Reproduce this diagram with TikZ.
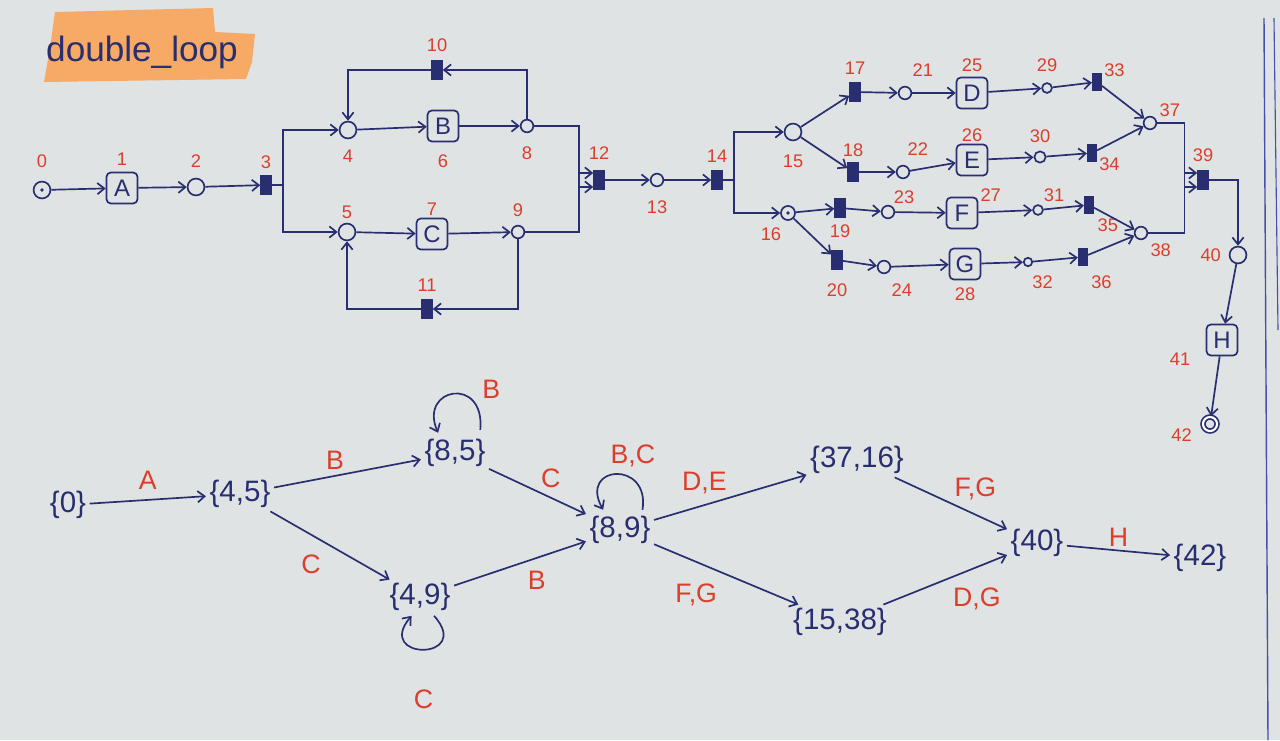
\documentclass[tikz,border=0pt]{standalone}
\usepackage{fontspec}
\setmainfont{Liberation Sans}
\usetikzlibrary{arrows.meta}
\definecolor{paper}{RGB}{223,227,227}
\definecolor{ink}{RGB}{40,46,112}
\definecolor{redpen}{RGB}{220,62,44}
\definecolor{marker}{RGB}{246,170,102}
\definecolor{margin}{RGB}{70,80,170}
\begin{document}
\begin{tikzpicture}[x=0.25mm, y=-0.25mm, >={Straight Barb[length=5pt,width=8pt]},
    line width=1.2pt, draw=ink,
    place/.style={draw=ink, circle, inner sep=0pt, minimum size=12pt},
    splace/.style={place, minimum size=9pt},
    tok/.style={place, path picture={\fill[ink] (path picture bounding box.center) circle (1.4pt);}},
    bar/.style={draw=ink, fill=ink, rectangle, inner sep=0pt, minimum width=7pt, minimum height=13pt},
    task/.style={draw=ink, rounded corners=3pt, minimum size=22pt, inner sep=0pt, text=ink, font=\fontsize{17}{17}\selectfont},
    num/.style={text=redpen, font=\fontsize{13}{13}\selectfont, inner sep=1pt},
    state/.style={text=ink, font=\fontsize{21}{21}\selectfont, inner sep=2pt},
    lbl/.style={text=redpen, font=\fontsize{19}{19}\selectfont, inner sep=2pt}]
\useasboundingbox (0,0) rectangle (1280,740);
\fill[paper] (0,0) rectangle (1280,740);
% notebook margin
\draw[margin, line width=1pt] (1264,18) -- (1268,740);
\draw[margin, line width=0.8pt] (1274,18) -- (1278,330);
% title
\fill[marker] (55,12) -- (213,8) -- (215,32) -- (255,34) -- (252,62) -- (246,79) -- (44,82) -- (50,48) -- cycle;
\node[text=ink, font=\fontsize{25}{25}\selectfont] (title) at (142,52) {double\_loop};

% ---- net ----
\node[tok] (p0) at (42,190) [label={[num, label distance=8pt]90:0}] {};
\node[task] (tA) at (122,188) [label={[num, label distance=3pt]90:1}] {A};
\node[place] (p2) at (196,187) [label={[num, label distance=6pt]90:2}] {};
\node[bar] (t3) at (266,185) [label={[num, label distance=3pt]90:3}] {};
\node[place] (p4) at (348,130) [label={[num, label distance=6pt]270:4}] {};
\node[place] (p5) at (347,232) [label={[num, label distance=1pt]90:5}] {};
\node[task] (tB) at (443,126) [label={[num, label distance=7pt]270:6}] {B};
\node[task] (tC) at (432,234) [label={[num, label distance=0pt]90:7}] {C};
\node[splace] (p8) at (527,126) [label={[num, label distance=8pt]270:8}] {};
\node[splace] (p9) at (518,232) [label={[num, label distance=4pt]90:9}] {};
\node[bar] (t10) at (437,70) [label={[num, label distance=4pt]90:10}] {};
\node[bar] (t11) at (427,309) [label={[num, label distance=4pt]90:11}] {};
\node[bar] (t12) at (599,180) [label={[num, label distance=6pt]90:12}] {};
\node[splace] (p13) at (657,180) [label={[num, label distance=8pt]270:13}] {};
\node[bar] (t14) at (717,180) [label={[num, label distance=4pt]90:14}] {};
\node[place] (p15) at (793,132) [label={[num, label distance=8pt]270:15}] {};
\node[tok, minimum size=10pt] (p16) at (788,213) [label={[num, label distance=4pt]250:16}] {};
\node[bar] (t17) at (855,92) [label={[num, label distance=4pt]90:17}] {};
\node[bar] (t18) at (853,172) [label={[num, label distance=2pt]90:18}] {};
\node[bar] (t19) at (840,208) [label={[num, label distance=3pt]270:19}] {};
\node[bar] (t20) at (837,260) [label={[num, label distance=8pt]270:20}] {};
\node[splace] (p21) at (905,93) [label={[num, label distance=6pt]70:21}] {};
\node[splace] (p22) at (903,172) [label={[num, label distance=5pt]80:22}] {};
\node[splace] (p23) at (888,212) [label={[num, label distance=0pt]60:23}] {};
\node[splace] (p24) at (884,267) [label={[num, label distance=6pt]290:24}] {};
\node[task] (tD) at (972,93) [label={[num, label distance=2pt]90:25}] {D};
\node[task] (tE) at (972,160) [label={[num, label distance=0pt]90:26}] {E};
\node[task] (tF) at (962,213) [label={[num, label distance=0pt]30:27}] {F};
\node[task] (tG) at (965,264) [label={[num, label distance=4pt]270:28}] {G};
\node[splace, minimum size=7pt] (p29) at (1047,88) [label={[num, label distance=6pt]90:29}] {};
\node[splace, minimum size=8pt] (p30) at (1040,157) [label={[num, label distance=4pt]90:30}] {};
\node[splace, minimum size=7pt] (p31) at (1038,210) [label={[num, label distance=1pt]60:31}] {};
\node[splace, minimum size=6pt] (p32) at (1028,262) [label={[num, label distance=5pt]280:32}] {};
\node[bar, minimum width=6pt, minimum height=11pt] (t33) at (1097,82) [label={[num, label distance=0pt]30:33}] {};
\node[bar, minimum width=6pt, minimum height=11pt] (t34) at (1092,153) [label={[num, label distance=0pt]330:34}] {};
\node[bar, minimum width=6pt, minimum height=11pt] (t35) at (1089,205) [label={[num, label distance=2pt]300:35}] {};
\node[bar, minimum width=6pt, minimum height=11pt] (t36) at (1083,257) [label={[num, label distance=6pt]290:36}] {};
\node[splace] (p37) at (1150,123) [label={[num, label distance=1pt]30:37}] {};
\node[splace] (p38) at (1141,233) [label={[num, label distance=3pt]310:38}] {};
\node[bar] (t39) at (1203,180) [label={[num, label distance=4pt]90:39}] {};
\node[place] (p40) at (1238,255) [label={[num, label distance=4pt]180:40}] {};
\node[task] (tH) at (1222,340) [label={[num, label distance=10pt]200:41}] {H};
\node[place, double, double distance=1.5pt, minimum size=10pt] (p42) at (1210,424) [label={[num, label distance=6pt]190:42}] {};

\draw[->] (p0) -- (tA);
\draw[->] (tA) -- (p2);
\draw[->] (p2) -- (t3);
\coordinate (s3) at ([xshift=8pt]t3.east);
\draw (t3.east) -- (s3);
\draw[->] (s3) |- (p4);
\draw[->] (s3) |- (p5);
\draw[->] (p4) -- (tB);
\draw[->] (tB) -- (p8);
\draw[->] (p5) -- (tC);
\draw[->] (tC) -- (p9);
\draw[->] (p8.north) |- (t10.east);
\draw[->] (t10.west) -| (p4.north);
\draw[->] (p9.south) |- (t11.east);
\draw[->] (t11.west) -| (p5.south);
\coordinate (s12) at ([xshift=-10pt]t12.west);
\draw[->] (p8.east) -| (s12) |- ([yshift=5pt]t12.west);
\draw[->] (p9.east) -| (s12) |- ([yshift=-5pt]t12.west);
\draw[->] (t12) -- (p13);
\draw[->] (p13) -- (t14);
\coordinate (s14) at ([xshift=8pt]t14.east);
\draw (t14.east) -- (s14);
\draw[->] (s14) |- (p15);
\draw[->] (s14) |- (p16);
\draw[->] (p15) -- (t17);
\draw[->] (p15) -- (t18);
\draw[->] (p16) -- (t19);
\draw[->] (p16) -- (t20);
\draw[->] (t17) -- (p21);
\draw[->] (t18) -- (p22);
\draw[->] (t19) -- (p23);
\draw[->] (t20) -- (p24);
\draw[->] (p21) -- (tD);
\draw[->] (p22) -- (tE);
\draw[->] (p23) -- (tF);
\draw[->] (p24) -- (tG);
\draw[->] (tD) -- (p29);
\draw[->] (tE) -- (p30);
\draw[->] (tF) -- (p31);
\draw[->] (tG) -- (p32);
\draw[->] (p29) -- (t33);
\draw[->] (p30) -- (t34);
\draw[->] (p31) -- (t35);
\draw[->] (p32) -- (t36);
\draw[->] (t33) -- (p37);
\draw[->] (t34) -- (p37);
\draw[->] (t35) -- (p38);
\draw[->] (t36) -- (p38);
\coordinate (s39) at ([xshift=-9pt]t39.west);
\draw[->] (p37.east) -| (s39) |- ([yshift=5pt]t39.west);
\draw[->] (p38.east) -| (s39) |- ([yshift=-5pt]t39.west);
\draw[->] (t39.east) -| (p40.north);
\draw[->] (p40) -- (tH);
\draw[->] (tH) -- (p42);

% ---- reachability graph ----
\node[state] (m0) at (68,505) {\{0\}};
\node[state] (m45) at (240,494) {\{4,5\}};
\node[state] (m85) at (455,453) {\{8,5\}};
\node[state] (m49) at (420,597) {\{4,9\}};
\node[state] (m89) at (620,530) {\{8,9\}};
\node[state] (m3716) at (857,460) {\{37,16\}};
\node[state] (m1538) at (840,622) {\{15,38\}};
\node[state] (m40) at (1037,543) {\{40\}};
\node[state] (m42) at (1200,558) {\{42\}};

\draw[->] (m0) -- node[lbl, above=5pt] {A} (m45);
\draw[->] (m45) -- node[lbl, above left] {B} (m85);
\draw[->] (m45) -- node[lbl, below left=4pt] {C} (m49);
\draw[->] (m85) -- node[lbl, above right] {C} (m89);
\draw[->] (m49) -- node[lbl, below right=3pt] {B} (m89);
\draw[->] (m89) -- node[lbl, above left] {D,E} (m3716);
\draw[->] (m89) -- node[lbl, below left=4pt] {F,G} (m1538);
\draw[->] (m3716) -- node[lbl, above right] {F,G} (m40);
\draw[->] (m1538) -- node[lbl, below right=3pt] {D,G} (m40);
\draw[->] (m40) -- node[lbl, above] {H} (m42);
% self loops
\draw[->] ([xshift=18pt,yshift=4pt]m85.north) .. controls +(5,-55) and +(-20,-45) .. ([xshift=-12pt,yshift=2pt]m85.north)
    node[lbl, pos=0.2, above right=2pt] {B};
\draw[->] ([xshift=16pt,yshift=2pt]m89.north) .. controls +(8,-50) and +(-25,-45) .. ([xshift=-12pt,yshift=2pt]m89.north)
    node[lbl, pos=0.3, above=6pt] {B,C};
\draw[->] ([xshift=10pt,yshift=-1pt]m49.south) .. controls +(40,45) and +(-38,45) .. ([xshift=-6pt,yshift=-1pt]m49.south)
    node[lbl, pos=0.5, below=26pt] {C};
\end{tikzpicture}
\end{document}
